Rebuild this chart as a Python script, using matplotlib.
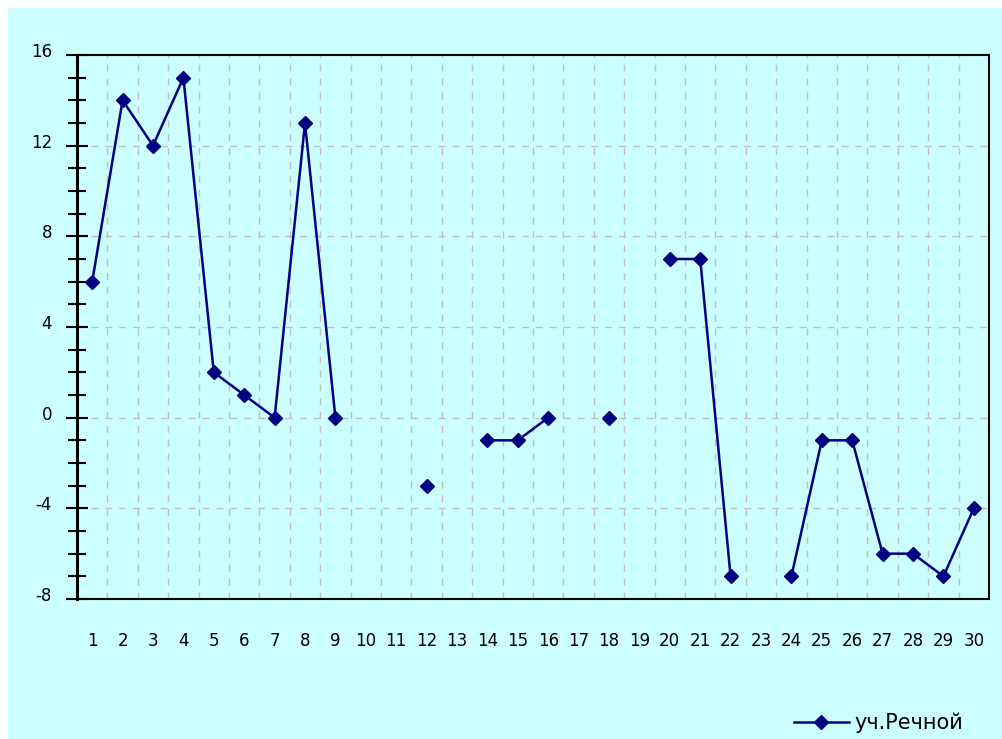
import numpy as np
import matplotlib.pyplot as plt
import matplotlib.transforms as mtransforms
from matplotlib.patches import Rectangle
from matplotlib.ticker import MultipleLocator

plt.rcParams['font.family'] = ['DejaVu Sans']
plt.rcParams['axes.unicode_minus'] = False

# days of the month and the measured values (gaps where nothing was recorded)
days = list(range(1, 31))
values = [6, 14, 12, 15, 2, 1, 0, 13, 0, np.nan,
          np.nan, -3, np.nan, -1, -1, 0, np.nan, 0, np.nan, 7,
          7, -7, np.nan, -7, -1, -1, -6, -6, -7, -4]
series_name = 'уч.Речной'

bg = '#CCFFFF'
navy = '#000080'

fig = plt.figure(figsize=(10.03, 7.39), dpi=100)
fig.patch.set_facecolor(bg)
# thin white margin along the top and left edges
fig.patches.append(Rectangle((0, 1 - 8 / 739), 1, 8 / 739, transform=fig.transFigure,
                             facecolor='white', edgecolor='none', zorder=-1))
fig.patches.append(Rectangle((0, 0), 8 / 1003, 1, transform=fig.transFigure,
                             facecolor='white', edgecolor='none', zorder=-1))

ax = fig.add_axes([77 / 1003, 1 - 599 / 739, (989 - 77) / 1003, (599 - 55) / 739])
ax.set_facecolor(bg)

ax.plot(days, values, color=navy, lw=1.8, marker='D', ms=7,
        mfc=navy, mec=navy, label=series_name, zorder=3)

ax.set_xlim(0.5, 30.5)
ax.set_ylim(-8, 16)
ax.set_xticks(days)
ax.set_yticks(range(-8, 17, 4))
ax.yaxis.set_minor_locator(MultipleLocator(1))

# dashed grid: horizontal at major y ticks, vertical between categories
for y in range(-4, 16, 4):
    ax.axhline(y, color='#C0C0C0', lw=1, ls=(0, (5, 5)), zorder=1)
for x in np.arange(1.5, 30.5, 1):
    ax.axvline(x, color='#C0C0C0', lw=1, ls=(0, (5, 5)), zorder=1)

ax.tick_params(axis='y', which='major', direction='inout', length=16, width=1.5,
               labelsize=12, pad=10)
ax.tick_params(axis='y', which='minor', direction='inout', length=13, width=1.5)
ax.tick_params(axis='x', length=0, labelsize=12, pad=24)

# y labels sit slightly above their ticks
shift = mtransforms.ScaledTranslation(0, 5 / 100, fig.dpi_scale_trans)
for lbl in ax.get_yticklabels():
    lbl.set_transform(lbl.get_transform() + shift)

ax.spines['left'].set_linewidth(2.2)
for s in ('top', 'right', 'bottom'):
    ax.spines[s].set_linewidth(1.5)

ax.legend(loc='center left', bbox_to_anchor=(794 / 1003, 1 - 723 / 739),
          bbox_transform=fig.transFigure, frameon=False, fontsize=15,
          handlelength=2.64, handletextpad=0.24, borderpad=0, borderaxespad=0)

fig.savefig('out.png', dpi=100, facecolor=fig.get_facecolor())
